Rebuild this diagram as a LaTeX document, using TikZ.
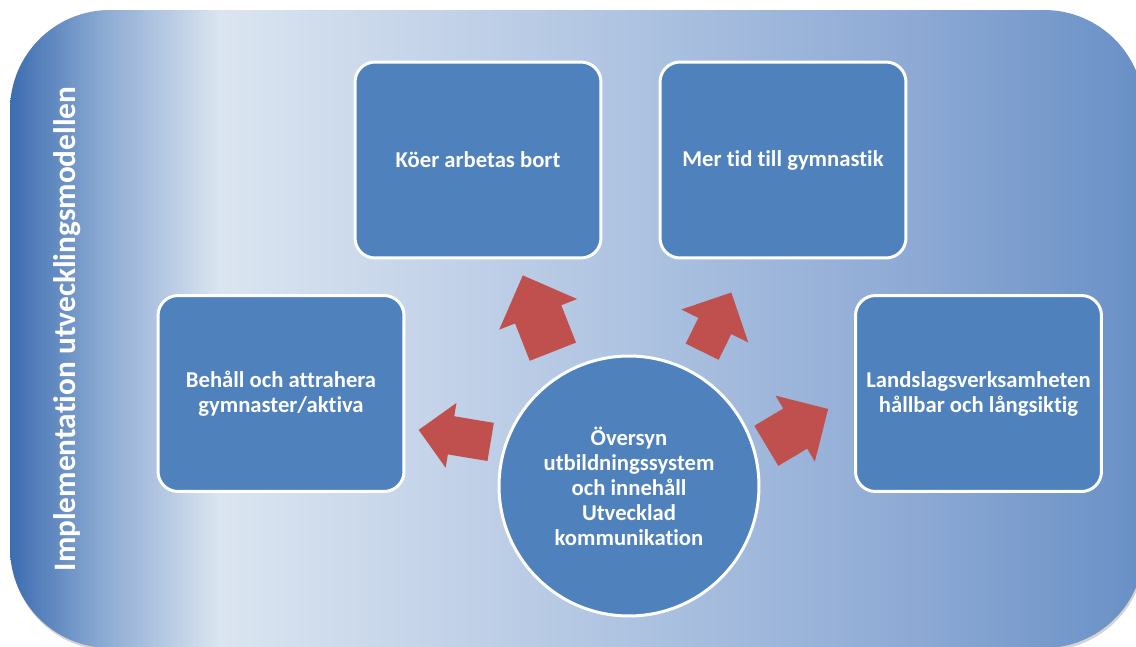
\documentclass[tikz,border=0pt]{standalone}
\usepackage{fontspec}
\setmainfont[Ligatures=NoCommon]{Carlito}
\usetikzlibrary{shapes.arrows,shadows}

\definecolor{boxblue}{HTML}{4F81BD}
\definecolor{arrowred}{HTML}{C0504D}
\definecolor{bgA}{HTML}{3C6DB0}
\definecolor{bgB}{HTML}{8AA9D2}
\definecolor{bgC}{HTML}{DBE5F1}
\definecolor{bgD}{HTML}{CDDAEC}
\definecolor{bgE}{HTML}{AEC3E1}
\definecolor{bgF}{HTML}{8DA9D4}
\definecolor{bgG}{HTML}{6890C6}
\pgfdeclarehorizontalshading{bgshade}{100bp}{color(0bp)=(bgA); color(25bp)=(bgA);
  color(29bp)=(bgB); color(34.25bp)=(bgC); color(40bp)=(bgD); color(52.5bp)=(bgE);
  color(65bp)=(bgF); color(75bp)=(bgG); color(100bp)=(bgG)}

\tikzset{
  bgpanel/.style={shading=bgshade, rounded corners=2cm,
    drop shadow={shadow xshift=0.6pt, shadow yshift=-1.5pt, opacity=0.35}},
  goalbox/.style={draw=white, line width=1.7pt, fill=boxblue, rounded corners=0.4cm,
    minimum width=4.92cm, minimum height=3.92cm, text=white, align=center,
    font=\bfseries\fontsize{12.9}{14.2}\selectfont},
  hubcircle/.style={circle, draw=white, line width=1.7pt, fill=boxblue,
    minimum size=5.2cm, text=white, align=center,
    font=\bfseries\fontsize{12.9}{14.2}\selectfont},
  redarrow/.style={single arrow, fill=arrowred, inner xsep=0pt, anchor=tail,
    single arrow tip angle=90}
}

\begin{document}
\begin{tikzpicture}[x=0.02cm, y=-0.02cm]
    \useasboundingbox (0,0) rectangle (1136,646);
    \shade[bgpanel] (10,10) rectangle (1144,648);

    \node[rotate=90, anchor=base, text=white, font=\bfseries\fontsize{17.8}{20}\selectfont]
        (title) at (75,329) {Implementation utvecklingsmodellen};

    \node[goalbox] (retain) at (281,393.5) {Behåll och attrahera\\gymnaster/aktiva};
    \node[goalbox] (queues) at (478,160) {Köer arbetas bort};
    \node[goalbox] (moretime) at (783,160) {Mer tid till gymnastik};
    \node[goalbox] (national) at (978.5,393.5) {Landslagsverksamheten\\hållbar och långsiktig};

    \node[hubcircle] (review) at (629,486)
        {Översyn\\utbildningssystem\\och innehåll\\Utvecklad\\kommunikation};

    % block arrows out of the circle
    \node[redarrow, rotate=170.5, minimum height=1.46cm, inner ysep=0.38cm,
        single arrow head extend=0.27cm] (toretain) at (491,442) {};
    \node[redarrow, rotate=111.5, minimum height=1.64cm, inner ysep=0.49cm,
        single arrow head extend=0.34cm] (toqueues) at (553,352) {};
    \node[redarrow, rotate=63.8, minimum height=1.32cm, inner ysep=0.36cm,
        single arrow head extend=0.38cm] (tomoretime) at (702,352) {};
    \node[redarrow, rotate=30.8, minimum height=1.44cm, inner ysep=0.46cm,
        single arrow head extend=0.3cm] (tonational) at (766,446) {};
\end{tikzpicture}
\end{document}
